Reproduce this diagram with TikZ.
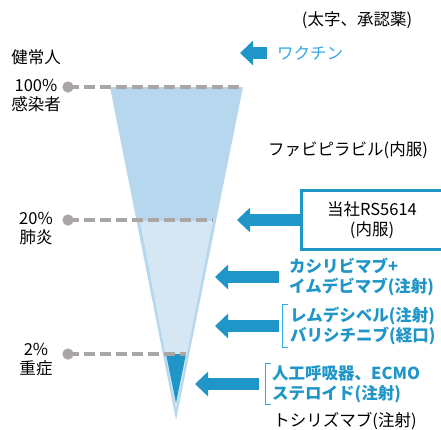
\documentclass[tikz,border=0pt]{standalone}
\usepackage{fontspec}
\setmainfont{Noto Sans CJK JP}
\usetikzlibrary{arrows.meta}
\definecolor{drugblue}{RGB}{32,150,200}
\definecolor{vacblue}{RGB}{48,170,225}
\definecolor{funnelout}{RGB}{183,215,239}
\definecolor{funnelin}{RGB}{213,231,243}
\definecolor{lvlgray}{RGB}{170,166,166}

\begin{document}
\begin{tikzpicture}[x=1pt, y=-1pt, every node/.style={font=\fontsize{16.5}{19}\selectfont, inner sep=0pt},
  level/.style={lvlgray, line width=4pt, dash pattern=on 11pt off 5pt},
  dot/.style={circle, fill=lvlgray, minimum size=11pt},
  drug/.style={-{Triangle[length=13pt,width=24pt]}, drugblue, line width=12pt},
  bold/.style={font=\fontsize{16.5}{20}\selectfont\bfseries, text=drugblue, align=left},
  brk/.style={vacblue, line width=1pt}]

\useasboundingbox (0,0) rectangle (441,429);

% funnel
\coordinate (ftl) at (110,87);
\coordinate (ftr) at (243,87);
\coordinate (ftip) at (176,420);
\fill[funnelout] (ftl) -- (ftr) -- (ftip) -- cycle;
\fill[funnelin] (140,221) -- (213,221) -- (176,410) -- cycle;
\fill[drugblue] (166,354) -- (186,354) -- (176,403) -- cycle;

% levels
\node[dot] (d100) at (68,87) {};
\node[dot] (d20) at (68,220) {};
\node[dot] (d2) at (68,354) {};
\coordinate (e20) at (213,220);
\coordinate (e2) at (186,354);
\draw[level] (d100.center) -- (ftr);
\draw[level] (d20.center) -- (e20);
\draw[level] (d2.center) -- (e2);
\node[dot] at (68,87) {};
\node[dot] at (68,220) {};
\node[dot] at (68,354) {};

\node (healthy) at (36,57) {健常人};
\node[align=center] (p100) at (36,96) {100\%\\感染者};
\node[align=center] (p20) at (36,229) {20\%\\肺炎};
\node[align=center] (p2) at (36,360) {2\%\\重症};

% drugs
\node (note) at (357,20) {(太字、承認薬)};
\node[anchor=west, text=vacblue] (vac) at (277,53) {ワクチン};
\node (fav) at (348,150) {ファビピラビル(内服)};
\node[draw=drugblue, line width=3pt, minimum width=141pt, minimum height=59pt, align=center,
  font=\fontsize{16.5}{20}\selectfont] (rs) at (372,220) {当社RS5614\\(内服)};
\node[bold, anchor=west] (cas) at (289,277) {カシリビマブ+\\イムデビマブ(注射)};
\node[bold, anchor=west, inner xsep=8pt, inner ysep=2pt] (rem) at (282,326) {レムデシベル(注射)\\バリシチニブ(経口)};
\node[bold, anchor=west, inner xsep=7pt, inner ysep=2pt] (ecmo) at (265,384) {人工呼吸器、ECMO\\ステロイド(注射)};
\node (toc) at (345,421) {トシリズマブ(注射)};

\coordinate (tvac) at (240,53);
\coordinate (trs) at (237,220);
\coordinate (tcas) at (215,277);
\coordinate (trem) at (215,326);
\coordinate (tecmo) at (195,384);

\draw[drug, shorten <=10pt] (vac.west) -- (tvac);
\draw[drug] (rs.west) -- (trs);
\draw[drug, shorten <=10pt] (cas.west) -- (tcas);
\draw[drug, shorten <=3pt] (rem.west) -- (trem);
\draw[drug, shorten <=6pt] (ecmo.west) -- (tecmo);

\draw[brk] ([xshift=6pt]rem.north west) -- (rem.north west) -- (rem.south west) -- ([xshift=6pt]rem.south west);
\draw[brk] ([xshift=6pt]ecmo.north west) -- (ecmo.north west) -- (ecmo.south west) -- ([xshift=6pt]ecmo.south west);

\end{tikzpicture}
\end{document}
